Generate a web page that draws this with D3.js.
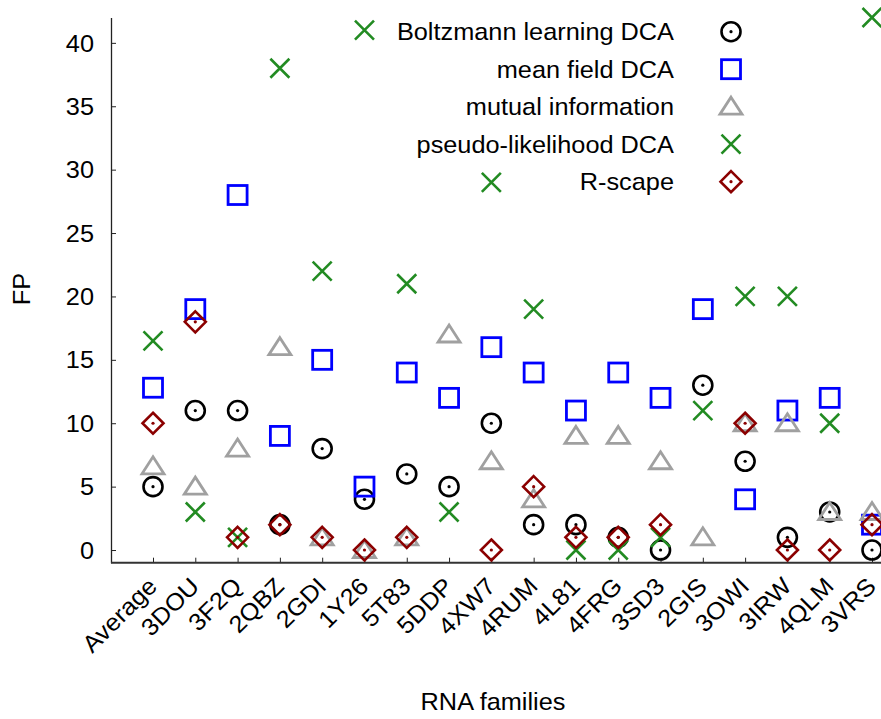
<!DOCTYPE html>
<html>
<head>
<meta charset="utf-8">
<script src="https://cdn.jsdelivr.net/npm/d3@7"></script>
<style>
  body { margin: 0; background: #fff; }
  text { font-family: "Liberation Sans", Arial, sans-serif; }
</style>
</head>
<body>
<div id="chart"></div>
<script>
// RNA families (x categories)
const families = ['Average', '3DOU', '3F2Q', '2QBZ', '2GDI', '1Y26', '5T83', '5DDP', '4XW7',
  '4RUM', '4L81', '4FRG', '3SD3', '2GIS', '3OWI', '3IRW', '4QLM', '3VRS']

// FP per method (null = not shown in the plot range)
const boltzmann = [5, 11, 11, 2, 8, 4, 6, 5, 10, 2, 2, 1, 0, 13, 7, 1, 3, 0]
const meanField = [12.8, 19, 28, 9, 15, 5, 14, 12, 16, 14, 11, 14, 12, 19, 4, 11, 12, 2]
const mutualInfo = [6.6, 5, 8, 16, 1, 0, 1, 17, 7, 4, 9, 9, 7, 1, 10, 10, 3, 3]
const pseudoLik = [16.5, 3, 1, 38, 22, 41, 21, 3, 29, 19, 0, 0, 1, 11, 20, 20, 10, 42]
const rscape = [10, 18, 1, 2, 1, 0, 1, null, 0, 5, 1, 1, 2, null, 10, 0, 0, 2]

const yTicks = [0, 5, 10, 15, 20, 25, 30, 35, 40]

const methods = [
  { name: 'Boltzmann learning DCA', values: boltzmann, shape: 'circle', color: '#000000' },
  { name: 'mean field DCA', values: meanField, shape: 'square', color: '#0000ff' },
  { name: 'mutual information', values: mutualInfo, shape: 'triangle', color: '#a0a0a0' },
  { name: 'pseudo-likelihood DCA', values: pseudoLik, shape: 'cross', color: '#228b22' },
  { name: 'R-scape', values: rscape, shape: 'diamond', color: '#8b0000' },
]

const width = 881, height = 719
// the original font runs a little wider than Liberation Sans
const stretch = 'scale(1.055,1)'

const svg = d3.select('#chart').append('svg')
  .attr('width', width)
  .attr('height', height)

const x = d3.scalePoint().domain(families).range([153, 872])
const y = d3.scaleLinear().domain([-1, 42]).range([562.7, 17.5])

// draw one marker into group g
function marker(g, shape, color) {
  if (shape === 'circle') {
    g.append('circle').attr('r', 9.5).attr('fill', 'none').attr('stroke', color).attr('stroke-width', 2.6)
    g.append('circle').attr('r', 1.6).attr('fill', color)
  } else if (shape === 'square') {
    g.append('rect').attr('x', -9.5).attr('y', -9.5).attr('width', 19).attr('height', 19)
      .attr('fill', 'none').attr('stroke', color).attr('stroke-width', 2.8)
  } else if (shape === 'triangle') {
    g.append('path').attr('d', 'M0,-9.5L11,7.5L-11,7.5Z')
      .attr('fill', 'none').attr('stroke', color).attr('stroke-width', 2.8)
  } else if (shape === 'cross') {
    g.append('path').attr('d', 'M-9.5,-9.5L9.5,9.5M-9.5,9.5L9.5,-9.5')
      .attr('fill', 'none').attr('stroke', color).attr('stroke-width', 2.6)
  } else if (shape === 'diamond') {
    g.append('path').attr('d', 'M0,-10.5L10.5,0L0,10.5L-10.5,0Z')
      .attr('fill', 'none').attr('stroke', color).attr('stroke-width', 2.6)
    g.append('circle').attr('r', 1.6).attr('fill', color)
  }
}

// axes
const yAxis = svg.append('g')
  .attr('transform', 'translate(111,0)')
  .call(d3.axisLeft(y).tickValues(yTicks).tickSizeInner(-5).tickSizeOuter(0).tickPadding(16))
yAxis.select('.domain').attr('stroke', '#222').attr('stroke-width', 1.3)
yAxis.selectAll('.tick line').attr('stroke', '#222')
yAxis.selectAll('.tick text').attr('font-size', 24).attr('fill', '#000')
  .attr('font-family', '"Liberation Sans", Arial, sans-serif')
  .attr('x', 0).attr('dy', '0.34em')
  .attr('transform', 'translate(-17,0) ' + stretch)

const xAxis = svg.append('g')
  .attr('transform', 'translate(0,562.7)')
  .call(d3.axisBottom(x).tickSizeInner(-5).tickSizeOuter(0))
xAxis.select('.domain').remove()
xAxis.selectAll('.tick line').attr('stroke', '#222')
xAxis.selectAll('.tick text')
  .attr('font-size', 24).attr('fill', '#000')
  .attr('font-family', '"Liberation Sans", Arial, sans-serif')
  .attr('text-anchor', 'end')
  .attr('y', 0).attr('dy', 0)
  .attr('transform', 'translate(5,25) rotate(-45) ' + stretch)

svg.append('line')
  .attr('x1', 111).attr('x2', 881)
  .attr('y1', 562.7).attr('y2', 562.7)
  .attr('stroke', '#333').attr('stroke-width', 2)

// points, in legend order
methods.forEach((m) => {
  svg.append('g').selectAll('g')
    .data(families.map((f, i) => ({ f: f, v: m.values[i] })).filter((d) => d.v !== null))
    .join('g')
    .attr('transform', (d) => `translate(${x(d.f)},${y(d.v)})`)
    .each(function () { marker(d3.select(this), m.shape, m.color) })
})

// legend
const legend = svg.append('g')
methods.forEach((m, i) => {
  const ly = 31.7 + i * 37.5
  legend.append('text')
    .attr('transform', `translate(674,${ly + 8.5}) ${stretch}`)
    .attr('text-anchor', 'end')
    .attr('font-size', 24)
    .text(m.name)
  const g = legend.append('g').attr('transform', `translate(731,${ly})`)
  marker(g, m.shape, m.color)
})

// axis titles
svg.append('text')
  .attr('transform', `translate(30,289) rotate(-90) ${stretch}`)
  .attr('text-anchor', 'middle')
  .attr('font-size', 24)
  .text('FP')

svg.append('text')
  .attr('transform', `translate(493,710) ${stretch}`)
  .attr('text-anchor', 'middle')
  .attr('font-size', 24)
  .text('RNA families')
</script>
</body>
</html>
